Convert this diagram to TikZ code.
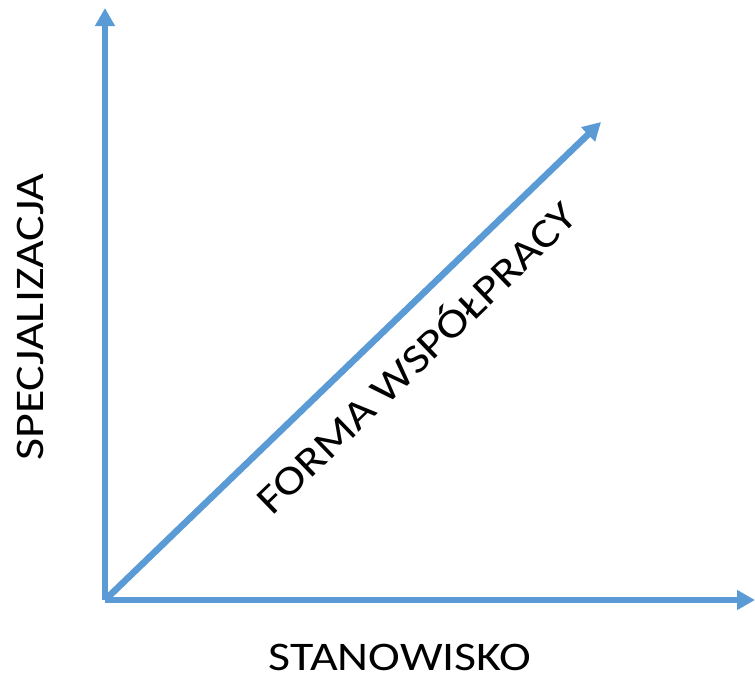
\documentclass[tikz,border=0pt]{standalone}
\usepackage{fontspec}
\setmainfont{Carlito}[FakeStretch=1.18]
\usetikzlibrary{arrows.meta}
\definecolor{osblue}{HTML}{5B9BD5}

\begin{document}
\begin{tikzpicture}[x=0.5pt,y=-0.5pt,
    axis/.style={draw=osblue,line width=3.3pt,-{Triangle[length=9pt,width=9.5pt]}},
    lbl/.style={inner sep=0pt,font=\fontsize{20.3}{24}\selectfont}]
          \useasboundingbox (0,0) rectangle (755,681);%
          \coordinate (O) at (105,600);%
          \coordinate (ytip) at (105,8);%
          \coordinate (xtip) at (755,600);%
          \coordinate (dtip) at (601,122);%
          \draw[axis] (O) -- (ytip);%
          \draw[axis] (O) -- (xtip);%
          \draw[axis] (O) -- (dtip);%

          \node[lbl,anchor=base] (stanowisko) at (400,670) {STANOWISKO};%
          \node[lbl,anchor=base,rotate=90] (specjalizacja) at (43,317) {SPECJALIZACJA};%
          \node[lbl,anchor=base,rotate=44] (forma) at (426,368) {FORMA WSPÓŁPRACY};%
    \end{tikzpicture}
\end{document}
